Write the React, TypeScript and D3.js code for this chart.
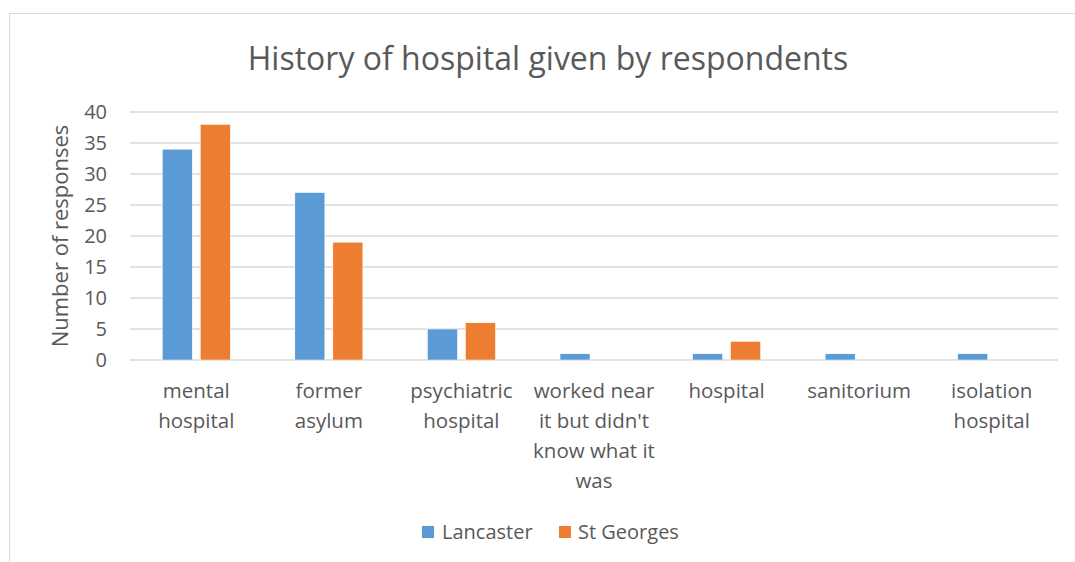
import React from "react";
import * as d3 from "d3";

const title = "History of hospital given by respondents";
const categories = [
  "mental hospital",
  "former asylum",
  "psychiatric hospital",
  "worked near it but didn't know what it was",
  "hospital",
  "sanitorium",
  "isolation hospital",
];
const categoryLines = [
  ["mental", "hospital"],
  ["former", "asylum"],
  ["psychiatric", "hospital"],
  ["worked near", "it but didn't", "know what it", "was"],
  ["hospital"],
  ["sanitorium"],
  ["isolation", "hospital"],
];
const seriesNames = ["Lancaster", "St Georges"];
const lancaster = [34, 27, 5, 1, 1, 1, 1];
const stGeorges = [38, 19, 6, 0, 3, 0, 0];
const yTicks = [0, 5, 10, 15, 20, 25, 30, 35, 40];
const colors = ["#5B9BD5", "#ED7D31"];
const yLabel = "Number of responses";

export default function App() {
  const W = 1075, H = 562;
  const left = 130, right = 1058, top = 112, bottom = 360;
  const font = "'Open Sans', sans-serif";
  const textColor = "#595959";
  const x = d3.scaleBand<string>().domain(categories).range([left, right]);
  const y = d3.scaleLinear().domain([0, 40]).range([bottom, top]);
  const barW = 30, gap = 8;
  const series = [lancaster, stGeorges];

  return (
    <svg width={W} height={H} style={{ position: "absolute", left: 0, top: 0 }}>
      <rect x={0} y={0} width={W} height={H} fill="#fff" />
      <rect x={9.5} y={13.5} width={W + 10} height={H + 10} fill="#fff" stroke="#D9D9D9" strokeWidth={1} />
      <text x={548} y={70} textAnchor="middle" fontFamily={font} fontSize={32} fill={textColor}>{title}</text>
      {yTicks.map((t) => (
        <g key={t}>
          <line x1={left} x2={right} y1={y(t)} y2={y(t)} stroke="#D9D9D9" strokeWidth={1.5} />
          <text x={107} y={y(t)} dy="0.35em" textAnchor="end" fontFamily={font} fontSize={20} fill={textColor}>{t}</text>
        </g>
      ))}
      <text transform={`translate(68,${(top + bottom) / 2}) rotate(-90)`} textAnchor="middle" fontFamily={font} fontSize={22} fill={textColor}>{yLabel}</text>
      {categories.map((c, i) => {
        const cx = (x(c) as number) + x.bandwidth() / 2;
        return (
          <g key={c}>
            {series.map((s, j) => {
              const bx = j === 0 ? cx - gap / 2 - barW : cx + gap / 2;
              const v = s[i];
              if (!v) return null;
              return (
                <rect key={j} x={bx} y={y(v)} width={barW} height={y(0) - y(v)} fill={colors[j]} stroke="#fff" strokeWidth={0.5} />
              );
            })}
            {categoryLines[i].map((ln, k) => (
              <text key={k} x={cx} y={391 + k * 30} dy="0.35em" textAnchor="middle" fontFamily={font} fontSize={20.5} fill={textColor}>{ln}</text>
            ))}
          </g>
        );
      })}
      <rect x={422} y={526} width={12} height={12} fill={colors[0]} />
      <text x={442} y={532} dy="0.35em" fontFamily={font} fontSize={20} fill={textColor}>{seriesNames[0]}</text>
      <rect x={559} y={526} width={12} height={12} fill={colors[1]} />
      <text x={578} y={532} dy="0.35em" fontFamily={font} fontSize={20} fill={textColor}>{seriesNames[1]}</text>
    </svg>
  );
}
